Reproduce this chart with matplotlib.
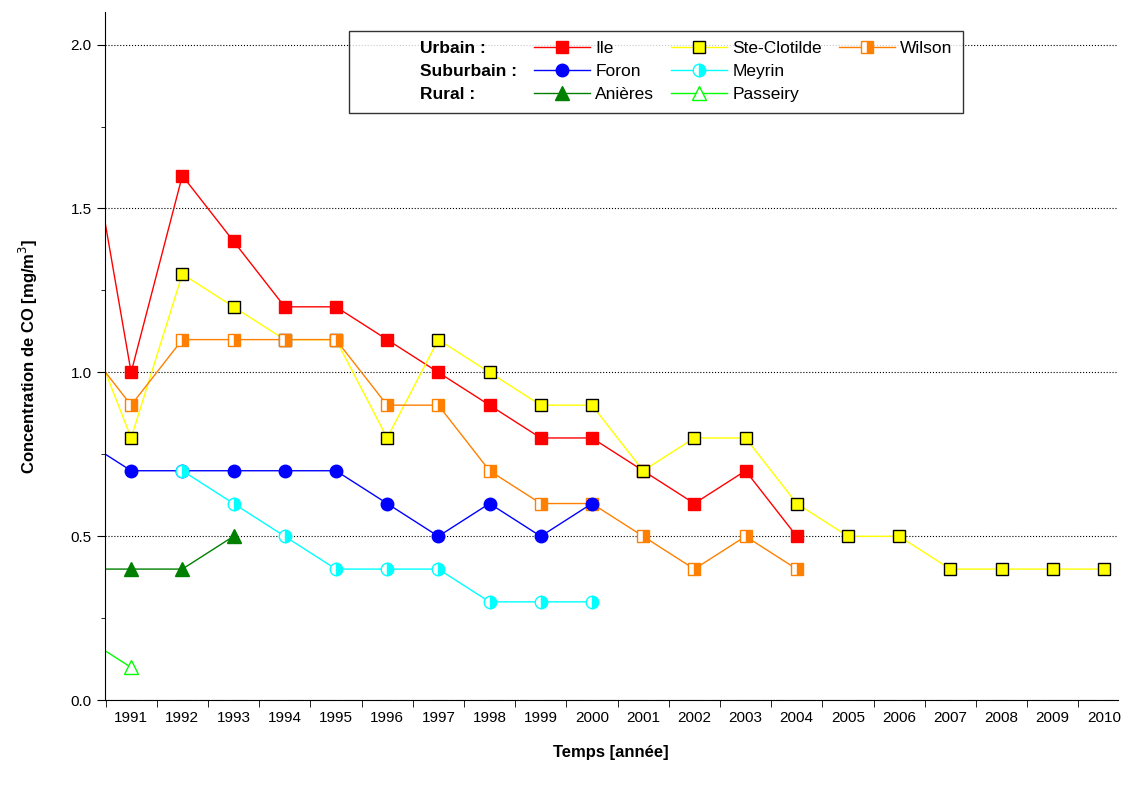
import matplotlib
matplotlib.use("Agg")
from matplotlib import pyplot as plt
from matplotlib.lines import Line2D

plt.rcParams['font.family'] = ['Liberation Sans', 'DejaVu Sans']

# data (1990 point lies outside the visible axis, only the line enters)
ile_years = list(range(1990, 2005))
ile = [1.9, 1.0, 1.6, 1.4, 1.2, 1.2, 1.1, 1.0, 0.9, 0.8, 0.8, 0.7, 0.6, 0.7, 0.5]
ste_years = list(range(1990, 2011))
ste = [1.2, 0.8, 1.3, 1.2, 1.1, 1.1, 0.8, 1.1, 1.0, 0.9, 0.9, 0.7, 0.8, 0.8, 0.6,
       0.5, 0.5, 0.4, 0.4, 0.4, 0.4]
wil_years = list(range(1990, 2005))
wil = [1.1, 0.9, 1.1, 1.1, 1.1, 1.1, 0.9, 0.9, 0.7, 0.6, 0.6, 0.5, 0.4, 0.5, 0.4]
foron_years = list(range(1990, 2001))
foron = [0.8, 0.7, 0.7, 0.7, 0.7, 0.7, 0.6, 0.5, 0.6, 0.5, 0.6]
meyrin_years = list(range(1992, 2001))
meyrin = [0.7, 0.6, 0.5, 0.4, 0.4, 0.4, 0.3, 0.3, 0.3]
anieres_years = [1990, 1991, 1992, 1993]
anieres = [0.4, 0.4, 0.4, 0.5]
pass_years = [1990, 1991]
passeiry = [0.2, 0.1]

fig = plt.figure(figsize=(11.22, 7.85), dpi=100)
ax = fig.add_axes([0.0936, 0.108, 0.9024, 0.877])

ms = 9
l_ile, = ax.plot(ile_years, ile, color='red', lw=1, marker='s', ms=ms,
                 mfc='red', mec='red', label='Ile')
l_ste, = ax.plot(ste_years, ste, color='#ffff00', lw=1, marker='s', ms=ms,
                 mfc='#ffff00', mec='black', label='Ste-Clotilde')
l_wil, = ax.plot(wil_years, wil, color='#ff8000', lw=1, marker='s', ms=ms,
                 fillstyle='right', mfc='#ff8000', mfcalt='white', mec='#ff8000',
                 label='Wilson')
l_for, = ax.plot(foron_years, foron, color='#0000ff', lw=1, marker='o', ms=ms,
                 mfc='#0000ff', mec='#0000ff', label='Foron')
l_mey, = ax.plot(meyrin_years, meyrin, color='#00ffff', lw=1, marker='o', ms=ms,
                 fillstyle='right', mfc='#00ffff', mfcalt='white', mec='#00ffff',
                 label='Meyrin')
l_ani, = ax.plot(anieres_years, anieres, color='#008000', lw=1, marker='^', ms=10,
                 mfc='#008000', mec='#008000', label='Anières')
l_pas, = ax.plot(pass_years, passeiry, color='#00ff00', lw=1, marker='^', ms=10,
                 mfc='white', mec='#00ff00', label='Passeiry')

ax.set_xlim(1990.49, 2010.265)
ax.set_ylim(0, 2.1)
ax.set_xticks(range(1991, 2011))
ax.set_xticks([y + 0.5 for y in range(1990, 2010)], minor=True)
ax.tick_params(axis='x', which='major', length=0, labelsize=11, pad=8)
ax.tick_params(axis='x', which='minor', length=5, direction='out')
ax.set_yticks([0, 0.5, 1.0, 1.5, 2.0])
ax.set_yticklabels(['0.0', '0.5', '1.0', '1.5', '2.0'])
ax.set_yticks([0.25, 0.75, 1.25, 1.75], minor=True)
ax.tick_params(axis='y', which='major', length=6, labelsize=11)
ax.tick_params(axis='y', which='minor', length=3)
ax.grid(axis='y', which='major', linestyle=':', color='black', lw=0.8)
ax.spines['top'].set_visible(False)
ax.spines['right'].set_visible(False)
ax.set_xlabel('Temps [année]', fontsize=12, fontweight='bold', labelpad=14)
ax.set_ylabel('Concentration de CO [mg/m$^3$]', fontsize=12, fontweight='bold', labelpad=22)

blank = Line2D([], [], linestyle='none')
handles = [blank, blank, blank, l_ile, l_for, l_ani, l_ste, l_mey, l_pas, l_wil, blank, blank]
labels = ['Urbain :', 'Suburbain :', 'Rural :', 'Ile', 'Foron', 'Anières',
          'Ste-Clotilde', 'Meyrin', 'Passeiry', 'Wilson', '', '']
leg = ax.legend(handles, labels, ncol=4, loc='upper center', bbox_to_anchor=(0.544, 0.985),
                fontsize=12.5, frameon=True, fancybox=False, edgecolor='black',
                handlelength=3.2, handletextpad=0.3, columnspacing=1.0, labelspacing=0.45,
                borderpad=0.6)
leg.get_frame().set_linewidth(1)
for t in leg.get_texts()[:3]:
    t.set_fontweight('bold')

fig.savefig('out.png', dpi=100)
